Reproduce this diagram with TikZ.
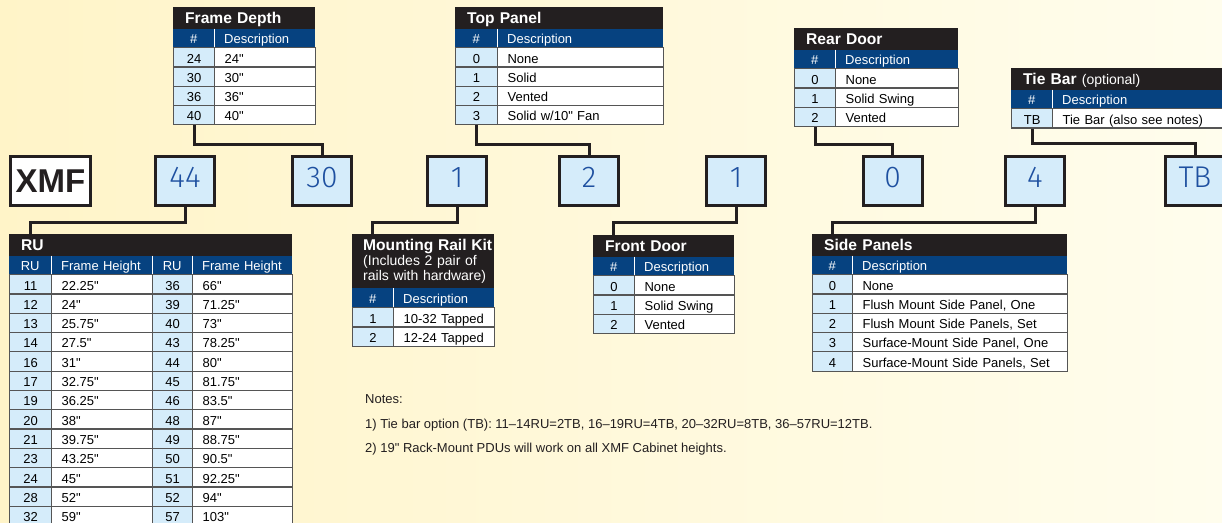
\documentclass[tikz,border=0pt]{standalone}
\usepackage{fontspec}
\setmainfont{Liberation Sans}[Ligatures=TeXOff]
\newfontfamily\handfont{Fira Sans Light}
\usetikzlibrary{positioning,calc}
\definecolor{xmfblack}{RGB}{35,31,32}
\definecolor{xmfnavy}{RGB}{6,66,128}
\definecolor{xmfcell}{RGB}{213,236,250}
\definecolor{xmfgrid}{RGB}{85,85,85}
\definecolor{xmfink}{RGB}{30,80,160}
\definecolor{xmfbgl}{RGB}{255,244,200}
\definecolor{xmfbgr}{RGB}{255,253,237}

\begin{document}
\begin{tikzpicture}[x=1pt,y=-1pt,
  partbox/.style={draw=xmfblack,line width=3pt,fill=xmfcell,minimum width=59pt,minimum height=49pt,
                  inner sep=0pt,text=xmfink,text height=21pt,text depth=8pt,
                  font=\handfont\fontsize{30}{30}\selectfont},
  link/.style={draw=xmfblack,line width=3pt},
  ttl/.style={anchor=north west,fill=xmfblack,text=white,minimum height=21.5pt,inner xsep=12pt,inner ysep=0pt,
              text width=#1,text height=12pt,text depth=0pt,align=left,font=\bfseries\fontsize{15.6}{18}\selectfont},
  hnum/.style={anchor=north west,fill=xmfnavy,text=white,minimum width=#1,minimum height=18.5pt,
               inner sep=0pt,text height=11.5pt,text depth=0pt,font=\fontsize{13}{15}\selectfont},
  hdesc/.style={anchor=north west,fill=xmfnavy,text=white,text width=#1,inner xsep=10pt,inner ysep=0pt,
                minimum height=18.5pt,text height=11.5pt,text depth=0pt,align=left,font=\fontsize{13}{15}\selectfont},
  hsep/.style={draw=white,line width=1.5pt},
  cnum/.style={anchor=north west,draw=xmfgrid,line width=1.2pt,fill=xmfcell,minimum width=#1,
               minimum height=19.3pt,inner sep=0pt,text height=11.5pt,text depth=0pt,font=\fontsize{13}{15}\selectfont},
  cdesc/.style={anchor=north west,draw=xmfgrid,line width=1.2pt,fill=white,text width=#1,inner xsep=10pt,
                inner ysep=0pt,minimum height=19.3pt,text height=11.5pt,text depth=0pt,align=left,
                font=\fontsize{13}{15}\selectfont},
  note/.style={anchor=west,inner sep=0pt,font=\fontsize{13}{15}\selectfont,text=xmfblack}
]
\clip (0,0) rectangle (1222,522);
\useasboundingbox (0,0) rectangle (1222,522);
\shade[left color=xmfbgl,right color=xmfbgr] (0,0) rectangle (1222,522);

% code boxes
\node[partbox,fill=white,minimum width=80pt,text=xmfblack,text height=,text depth=,
      font=\bfseries\fontsize{33}{33}\selectfont] (xmf) at (50.5,181) {XMF};
\node[partbox] (b44) at (185,181) {44};
\node[partbox] (b30) at (322,181) {30};
\node[partbox] (b1a) at (457,181) {1};
\node[partbox] (b2) at (589,181) {2};
\node[partbox] (b1b) at (736,181) {1};
\node[partbox] (b0) at (892.5,181) {0};
\node[partbox] (b4) at (1035,181) {4};
\node[partbox] (btb) at (1195,181) {TB};

% Frame Depth
\node[ttl=118pt] (fd-t) at (173,7) {Frame Depth};
\node[hnum=41pt] (fd-h1) at (173,28.5) {\#};
\node[hdesc=81pt] (fd-h2) at (214,28.5) {Description};
\draw[hsep] (fd-h1.north east) -- (fd-h1.south east);
\foreach \n/\d [count=\i from 0] in {24/24",30/30",36/36",40/40"} {
  \node[cnum=41pt] (fd-n\i) at (173,47+19.3*\i) {\n};
  \node[cdesc=81pt] (fd-d\i) at (214,47+19.3*\i) {\d};
}

% Top Panel
\node[ttl=184pt] (tp-t) at (455,7) {Top Panel};
\node[hnum=42pt] (tp-h1) at (455,28.5) {\#};
\node[hdesc=146pt] (tp-h2) at (497,28.5) {Description};
\draw[hsep] (tp-h1.north east) -- (tp-h1.south east);
\foreach \n/\d [count=\i from 0] in {0/None,1/Solid,2/Vented,3/{Solid w/10" Fan}} {
  \node[cnum=42pt] (tp-n\i) at (455,47+19.3*\i) {\n};
  \node[cdesc=146pt] (tp-d\i) at (497,47+19.3*\i) {\d};
}

% Rear Door
\node[ttl=140pt] (rd-t) at (794,28) {Rear Door};
\node[hnum=41pt] (rd-h1) at (794,49.5) {\#};
\node[hdesc=103pt] (rd-h2) at (835,49.5) {Description};
\draw[hsep] (rd-h1.north east) -- (rd-h1.south east);
\foreach \n/\d [count=\i from 0] in {0/None,1/Solid Swing,2/Vented} {
  \node[cnum=41pt] (rd-n\i) at (794,68+19.3*\i) {\n};
  \node[cdesc=103pt] (rd-d\i) at (835,68+19.3*\i) {\d};
}

% Tie Bar
\node[ttl=207pt] (tb-t) at (1011,68) {Tie Bar {\mdseries\fontsize{14}{16}\selectfont(optional)}};
\node[hnum=41pt] (tb-h1) at (1011,89.5) {\#};
\node[hdesc=170pt] (tb-h2) at (1052,89.5) {Description};
\draw[hsep] (tb-h1.north east) -- (tb-h1.south east);
\node[cnum=41pt] (tb-n0) at (1011,108) {TB};
\node[cdesc=170pt] (tb-d0) at (1052,108) {Tie Bar (also see notes)};

% RU
\node[ttl=259pt] (ru-t) at (9,234) {RU};
\node[hnum=42pt] (ru-h1) at (9,255.5) {RU};
\node[hdesc=81pt] (ru-h2) at (51,255.5) {Frame Height};
\node[hnum=40pt] (ru-h3) at (152,255.5) {RU};
\node[hdesc=80pt] (ru-h4) at (192,255.5) {Frame Height};
\foreach \h in {ru-h1,ru-h2,ru-h3} \draw[hsep] (\h.north east) -- (\h.south east);
\foreach \a/\b/\c/\d [count=\i from 0] in {11/22.25"/36/66",12/24"/39/71.25",13/25.75"/40/73",14/27.5"/43/78.25",
    16/31"/44/80",17/32.75"/45/81.75",19/36.25"/46/83.5",20/38"/48/87",21/39.75"/49/88.75",
    23/43.25"/50/90.5",24/45"/51/92.25",28/52"/52/94",32/59"/57/103"} {
  \node[cnum=42pt] (ru-a\i) at (9,274+19.3*\i) {\a};
  \node[cdesc=81pt] (ru-b\i) at (51,274+19.3*\i) {\b};
  \node[cnum=40pt] (ru-c\i) at (152,274+19.3*\i) {\c};
  \node[cdesc=80pt] (ru-d\i) at (192,274+19.3*\i) {\d};
}

% Mounting Rail Kit
\node[ttl=120pt,minimum height=54pt,inner xsep=11pt,text height=,text depth=,
      font=\fontsize{14}{15.5}\selectfont] (mr-t) at (352,234)
  {\mbox{\bfseries\fontsize{15.6}{18}\selectfont Mounting Rail Kit}\\[-0.5pt]
   \mbox{(Includes 2 pair of}\\\mbox{rails with hardware)}};
\node[hnum=41pt] (mr-h1) at (352,288) {\#};
\node[hdesc=81pt] (mr-h2) at (393,288) {Description};
\draw[hsep] (mr-h1.north east) -- (mr-h1.south east);
\foreach \n/\d [count=\i from 0] in {1/10-32 Tapped,2/12-24 Tapped} {
  \node[cnum=41pt] (mr-n\i) at (352,307+19.3*\i) {\n};
  \node[cdesc=81pt] (mr-d\i) at (393,307+19.3*\i) {\d};
}

% Front Door
\node[ttl=117pt] (fr-t) at (593,235) {Front Door};
\node[hnum=41pt] (fr-h1) at (593,256.5) {\#};
\node[hdesc=80pt] (fr-h2) at (634,256.5) {Description};
\draw[hsep] (fr-h1.north east) -- (fr-h1.south east);
\foreach \n/\d [count=\i from 0] in {0/None,1/Solid Swing,2/Vented} {
  \node[cnum=41pt] (fr-n\i) at (593,275+19.3*\i) {\n};
  \node[cdesc=80pt] (fr-d\i) at (634,275+19.3*\i) {\d};
}

% Side Panels
\node[ttl=231pt] (sp-t) at (812,234) {Side Panels};
\node[hnum=40pt] (sp-h1) at (812,255.5) {\#};
\node[hdesc=195pt] (sp-h2) at (852,255.5) {Description};
\draw[hsep] (sp-h1.north east) -- (sp-h1.south east);
\foreach \n/\d [count=\i from 0] in {0/None,1/{Flush Mount Side Panel, One},2/{Flush Mount Side Panels, Set},
    3/{Surface-Mount Side Panel, One},4/{Surface-Mount Side Panels, Set}} {
  \node[cnum=40pt] (sp-n\i) at (812,274+19.3*\i) {\n};
  \node[cdesc=195pt] (sp-d\i) at (852,274+19.3*\i) {\d};
}

% connectors
\draw[link] (fd-n3.south) -- ++(0,19) -| (b30.north);
\draw[link] (tp-n3.south) -- ++(0,19) -| (b2.north);
\draw[link] (rd-n2.south) -- ++(0,17) -| (b0.north);
\draw[link] (tb-n0.south) -- ++(0,15) -| (btb.north);
\draw[link] (b44.south) -- ++(0,15) -| (ru-h1 |- ru-t.north);
\draw[link] (b1a.south) -- ++(0,15) -| (mr-h1 |- mr-t.north);
\draw[link] (b1b.south) -- ++(0,15) -| (fr-h1 |- fr-t.north);
\draw[link] (b4.south) -- ++(0,15) -| (sp-h1 |- sp-t.north);

% notes
\node[note] (notes) at (365,399) {Notes:};
\node[note] (note1) at (365,425) {1) Tie bar option (TB): 11–14RU=2TB, 16–19RU=4TB, 20–32RU=8TB, 36–57RU=12TB.};
\node[note] (note2) at (365,449) {2) 19" Rack-Mount PDUs will work on all XMF Cabinet heights.};
\end{tikzpicture}
\end{document}
